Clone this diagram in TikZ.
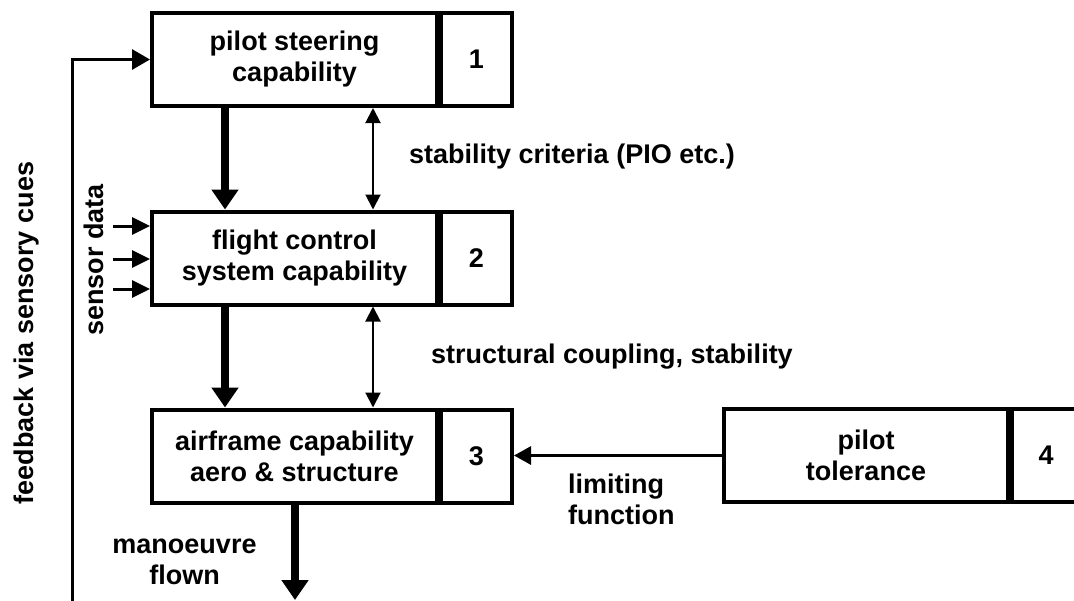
\documentclass[tikz,border=0pt]{standalone}
\usepackage{fontspec}
\setmainfont{Liberation Sans}
\usetikzlibrary{arrows.meta}
\begin{document}
\begin{tikzpicture}[x=1pt,y=1pt,
  lbl/.style={font=\bfseries\fontsize{27}{31}\selectfont, inner sep=0pt},
  box/.style={draw, line width=4pt, lbl, align=center, minimum height=93pt},
  thickarr/.style={line width=7.5pt, -{Triangle[length=20pt,width=26pt]}},
  dblarr/.style={line width=2pt, {Triangle[length=15pt,width=15pt]}-{Triangle[length=15pt,width=15pt]}},
  sarr/.style={line width=3pt, -{Triangle[length=18pt,width=17pt]}},
  fbarr/.style={line width=3pt, -{Triangle[length=18pt,width=20pt]}},
  limarr/.style={line width=3pt, -{Triangle[length=17pt,width=18pt]}}
]
\useasboundingbox (0,0) rectangle (1074,-600);
\clip (0,0) rectangle (1074,-600);

% boxes
\node[box, minimum width=285pt] (b1) at (294.5,-59.5) {pilot steering\\capability};
\node[box, minimum width=71pt]  (n1) at (476.5,-59.5) {1};
\node[box, minimum width=285pt] (b2) at (294.5,-258) {flight control\\system capability};
\node[box, minimum width=71pt]  (n2) at (476.5,-258) {2};
\node[box, minimum width=285pt] (b3) at (294.5,-456) {airframe capability\\aero \& structure};
\node[box, minimum width=71pt]  (n3) at (476.5,-456) {3};
\node[box, minimum width=284pt] (b4) at (866,-455.5) {pilot\\tolerance};
\node[box, minimum width=68pt]  (n4) at (1046,-455.5) {4};

% helper coordinates
\coordinate (xa) at (225,0);
\coordinate (xb) at (373,0);
\coordinate (xo) at (295,0);
\coordinate (out) at (295,-600);
\coordinate (fb) at (72,-610);
\coordinate (s1) at (113,-226);
\coordinate (s2) at (113,-259);
\coordinate (s3) at (113,-289);

% vertical connectors
\draw[thickarr] (b1.south -| xa) -- (b2.north -| xa);
\draw[dblarr]   (b1.south -| xb) -- (b2.north -| xb);
\draw[thickarr] (b2.south -| xa) -- (b3.north -| xa);
\draw[dblarr]   (b2.south -| xb) -- (b3.north -| xb);
\draw[thickarr] (b3.south -| xo) -- (out);

% sensor inputs
\draw[sarr] (s1) -- (s1 -| b2.west);
\draw[sarr] (s2) -- (s2 -| b2.west);
\draw[sarr] (s3) -- (s3 -| b2.west);

% feedback loop
\draw[fbarr] (fb) |- (b1.west);

% limiting function
\draw[limarr] (b4.west) -- (b4.west -| n3.east);

% labels
\node[lbl, anchor=base west] (lstab) at (409,-163) {stability criteria (PIO etc.)};
\node[lbl, anchor=base west] (lstruct) at (431,-363) {structural coupling, stability};
\node[lbl, align=left, anchor=west] (llim) at (568,-499.4) {limiting\\function};
\node[lbl, align=center] (lman) at (184.5,-562) {manoeuvre\\flown};
\node[lbl, rotate=90, anchor=base] (lsens) at (103,-260) {sensor data};
\node[lbl, rotate=90, anchor=base] (lfb) at (33,-333) {feedback via sensory cues};
\end{tikzpicture}
\end{document}
